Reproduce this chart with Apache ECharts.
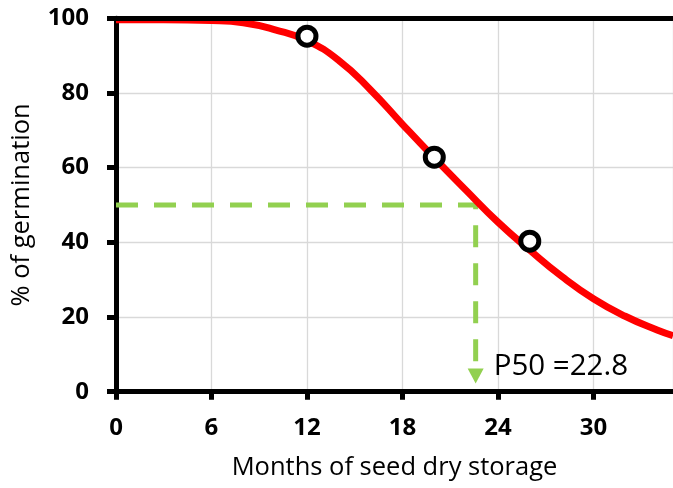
<!DOCTYPE html>
<html>
<head>
<meta charset="utf-8">
<script src="https://cdn.jsdelivr.net/npm/echarts@6/dist/echarts.min.js"></script>
<style>
html,body{margin:0;padding:0;background:#fff;}
#chart{width:673px;height:488px;}
</style>
</head>
<body>
<div id="chart"></div>
<script>
// Fitted survival curve (months, % germination)
const curveMonths = [0, 3, 6, 8, 10, 12, 14, 16, 18, 20, 22, 24, 26, 28, 30, 32, 34, 35];
const curveGerm   = [99.6, 99.6, 99.4, 98.8, 96.9, 94.0, 88.7, 80.8, 71.6, 62.6, 53.9, 45.4, 37.9, 30.9, 24.9, 20.2, 16.5, 15.0];
// Observed points
const obsMonths = [12, 20, 26];
const obsGerm   = [95.2, 62.8, 40.3];
// P50 guide
const p50Months = [0, 22.6, 22.6];
const p50Germ   = [50, 50, 7];
const arrowPoint = [22.6, 4.2];
const p50Label = 'P50 =22.8';
// Axis ticks
const xTicks = [0, 6, 12, 18, 24, 30];
const yTicks = [0, 20, 40, 60, 80, 100];

const chart = echarts.init(document.getElementById('chart'), null, {renderer: 'canvas'});
const FONT = '"Open Sans", "Liberation Sans", sans-serif';

const option = {
  backgroundColor: '#ffffff',
  animation: false,
  grid: {left: 116, top: 18.2, right: -4, bottom: 96.3, containLabel: false},
  xAxis: [{
    type: 'value', min: 0, max: 35, interval: 6, position: 'bottom',
    name: 'Months of seed dry storage', nameLocation: 'middle', nameGap: 63,
    nameTextStyle: {fontFamily: FONT, fontSize: 25.5, color: '#000'},
    axisLine: {show: true, onZero: false, lineStyle: {color: '#000', width: 5}},
    axisTick: {show: true, inside: false, length: 8, lineStyle: {color: '#000', width: 5}},
    axisLabel: {
      margin: 24, fontFamily: FONT, fontWeight: 'bold', fontSize: 24, color: '#000',
      showMaxLabel: false,
      formatter: v => xTicks.indexOf(v) >= 0 ? String(v) : ''
    },
    splitLine: {show: true, lineStyle: {color: '#d9d9d9', width: 1.3}}
  }, {
    type: 'value', min: 0, max: 35, position: 'top', z: 5,
    axisLine: {show: true, onZero: false, lineStyle: {color: '#000', width: 5}},
    axisTick: {show: false}, axisLabel: {show: false}, splitLine: {show: false}
  }],
  yAxis: {
    type: 'value', min: 0, max: 100, interval: 20,
    name: '% of germination', nameLocation: 'middle', nameGap: 81,
    nameTextStyle: {fontFamily: FONT, fontSize: 25.5, color: '#000'},
    axisLine: {show: true, onZero: false, lineStyle: {color: '#000', width: 5}},
    axisTick: {show: true, inside: false, length: 9, lineStyle: {color: '#000', width: 5}},
    axisLabel: {
      margin: 27, fontFamily: FONT, fontWeight: 'bold', fontSize: 24, color: '#000',
      formatter: v => yTicks.indexOf(v) >= 0 ? String(v) : ''
    },
    splitLine: {show: true, lineStyle: {color: '#d9d9d9', width: 1.3}}
  },
  series: [
    {
      type: 'line', name: 'P50 guide', z: 1,
      data: p50Months.map((m, i) => [m, p50Germ[i]]),
      showSymbol: false, symbol: 'none',
      lineStyle: {color: '#92d050', width: 5, type: [22, 16], cap: 'butt', opacity: 1}
    },
    {
      type: 'scatter', name: 'arrow', z: 1,
      data: [arrowPoint],
      symbol: 'triangle', symbolRotate: 180, symbolSize: [16, 15],
      itemStyle: {color: '#92d050', opacity: 1},
      label: {
        show: true, position: 'right', distance: 10, offset: [0, -9],
        formatter: p50Label, fontFamily: FONT, fontSize: 29.5, color: '#000', opacity: 1
      }
    },
    {
      type: 'line', name: 'fit', z: 2,
      data: curveMonths.map((m, i) => [m, curveGerm[i]]),
      smooth: true, showSymbol: false, symbol: 'none',
      lineStyle: {color: '#ff0000', width: 7, opacity: 1}
    },
    {
      type: 'scatter', name: 'observed', z: 3,
      data: obsMonths.map((m, i) => [m, obsGerm[i]]),
      symbol: 'circle', symbolSize: 18,
      itemStyle: {color: '#ffffff', borderColor: '#000000', borderWidth: 5, opacity: 1}
    }
  ]
};
chart.setOption(option);
</script>
</body>
</html>
